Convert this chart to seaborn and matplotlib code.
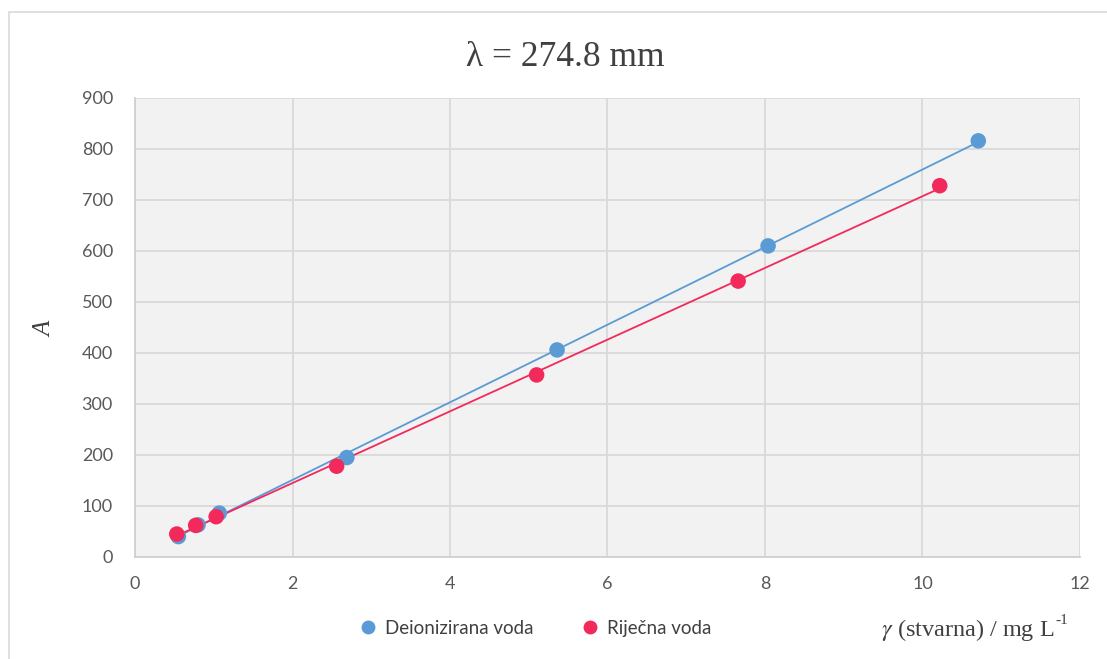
import numpy as np
import pandas as pd
import matplotlib
matplotlib.use("Agg")
import matplotlib.pyplot as plt
import seaborn as sns
from matplotlib.lines import Line2D
from matplotlib.patches import Rectangle

# -------------------------------
# Data
# -------------------------------
deion_x = [0.55, 0.80, 1.07, 2.69, 5.36, 8.04, 10.71]
deion_y = [40, 63, 86, 195, 406, 610, 816]
river_x = [0.53, 0.77, 1.03, 2.56, 5.10, 7.66, 10.22]
river_y = [45, 62, 79, 178, 357, 541, 728]

series_names = ["Deionizirana voda", "Riječna voda"]
x_ticks = [0, 2, 4, 6, 8, 10, 12]
y_ticks = [0, 100, 200, 300, 400, 500, 600, 700, 800, 900]

title_text = "λ = 274.8 mm"
x_label = r"$\gamma$ (stvarna) / mg L"
x_label_sup = "-1"
y_label = "A"

color_map = {
    "Deionizirana voda": "#5B9BD5",
    "Riječna voda": "#F2295B",
}

df = pd.concat([
    pd.DataFrame({"x": deion_x, "y": deion_y, "serija": series_names[0]}),
    pd.DataFrame({"x": river_x, "y": river_y, "serija": series_names[1]}),
], ignore_index=True)

# -------------------------------
# Plot
# -------------------------------
sns.set_theme(style="whitegrid")
plt.rcParams["font.family"] = ["Lato", "DejaVu Sans"]
plt.rcParams["mathtext.fontset"] = "stix"
serif = ["Liberation Serif", "DejaVu Serif"]

fig = plt.figure(figsize=(11.07, 6.59), dpi=100)
ax = fig.add_axes([0.122, 0.1548, 0.8535, 0.6965])

# outer chart border
fig.patches.append(Rectangle((9 / 1107, -0.05), 1.2, 1 - 12 / 659 + 0.05,
                             transform=fig.transFigure, fill=False,
                             edgecolor="#D9D9D9", linewidth=1.2, zorder=0))

ax.set_facecolor("#F2F2F2")

# trendlines (linear fit)
for name in series_names:
    sub = df[df["serija"] == name]
    sns.regplot(data=sub, x="x", y="y", ax=ax, scatter=False, ci=None,
                color=color_map[name], line_kws={"linewidth": 1.3, "zorder": 3})

sns.scatterplot(data=df, x="x", y="y", hue="serija", palette=color_map,
                s=125, edgecolor="none", ax=ax, legend=False, zorder=4)

ax.set_xlim(0, 12)
ax.set_ylim(0, 900)
ax.set_xticks(x_ticks)
ax.set_yticks(y_ticks)
ax.grid(True, color="#D9D9D9", linewidth=1.3)
ax.tick_params(axis="both", length=0, labelsize=13, labelcolor="#595959")
ax.tick_params(axis="y", pad=16)
ax.tick_params(axis="x", pad=14)

for side in ["top", "right"]:
    ax.spines[side].set_visible(False)
for side in ["left", "bottom"]:
    ax.spines[side].set_color("#D0D0D0")
    ax.spines[side].set_linewidth(1.3)

ax.set_xlabel("")
ax.set_ylabel("")

fig.text(0.511, 0.912, title_text, ha="center", va="center", fontsize=25.5,
         color="#404040", family=serif)
fig.text(0.041, 0.50, y_label, ha="center", va="center", fontsize=18,
         rotation=90, style="italic", color="#404040", family=serif)
fig.text(0.952, 0.044, x_label, ha="right", va="center", fontsize=17.5,
         color="#404040", family=serif)
fig.text(0.953, 0.059, x_label_sup, ha="left", va="center", fontsize=11,
         color="#404040", family=serif)

handles = [Line2D([0], [0], marker="o", linestyle="", markersize=10,
                  markerfacecolor=color_map[n], markeredgecolor="none", label=n)
           for n in series_names]
fig.legend(handles=handles, loc="center", bbox_to_anchor=(0.479, 0.047), ncol=2,
           frameon=False, fontsize=13.5, handletextpad=-0.1, columnspacing=2.0,
           labelcolor="#404040")

fig.savefig("out.png", dpi=100)
